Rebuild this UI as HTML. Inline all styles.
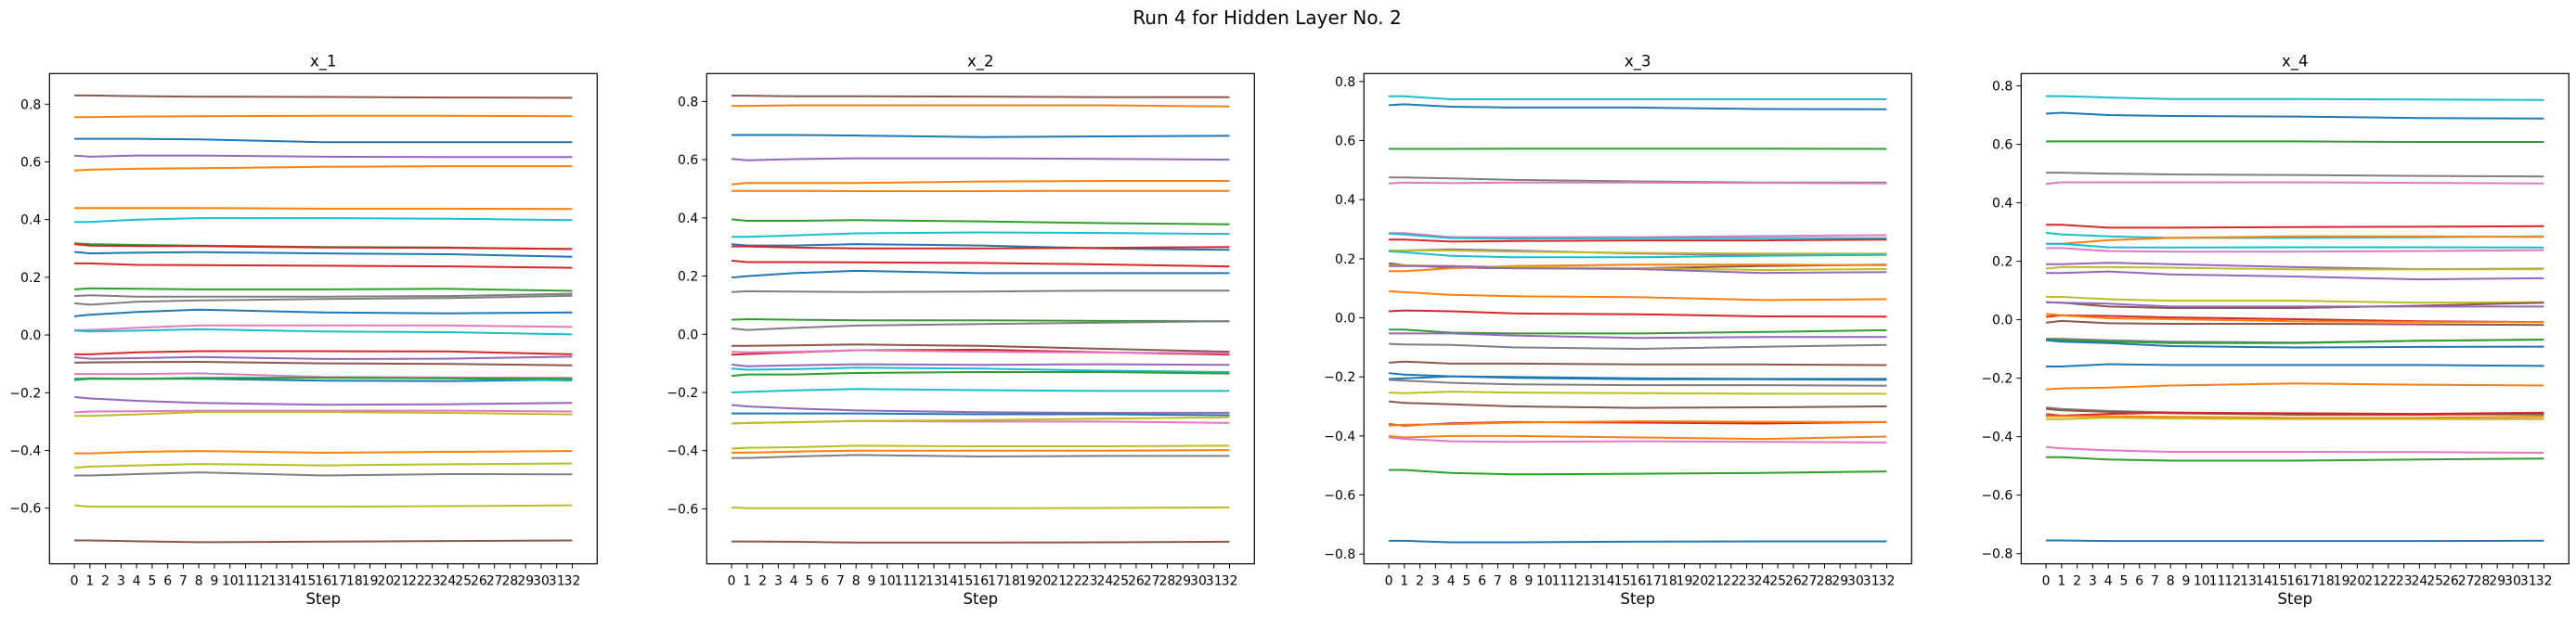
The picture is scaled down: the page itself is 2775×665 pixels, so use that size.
<!DOCTYPE html>
<html><head><meta charset="utf-8"><style>
body{margin:0;background:#fff;}
svg{display:block;font-family:"DejaVu Sans","Liberation Sans",sans-serif;}
</style></head><body>
<svg id="fig" width="2775" height="665" xmlns="http://www.w3.org/2000/svg">
<rect width="2775" height="665" fill="#fff"/>
<text x="1365" y="26" font-size="20" text-anchor="middle" fill="#000">Run 4 for Hidden Layer No. 2</text>
</svg>
<script>
const steps = [0,1,4,8,16,24,32];
const tickSteps = Array.from({length:33},(_,i)=>i);
const panelTitles = ["x_1","x_2","x_3","x_4"];
const yTicks1 = [-0.6,-0.4,-0.2,0.0,0.2,0.4,0.6,0.8];
const yTicks2 = [-0.6,-0.4,-0.2,0.0,0.2,0.4,0.6,0.8];
const yTicks3 = [-0.8,-0.6,-0.4,-0.2,0.0,0.2,0.4,0.6,0.8];
const yTicks4 = [-0.8,-0.6,-0.4,-0.2,0.0,0.2,0.4,0.6,0.8];
const yRange1 = [-0.793,0.906];
const yRange2 = [-0.789,0.896];
const yRange3 = [-0.833,0.827];
const yRange4 = [-0.835,0.842];
const C={b:"#1f77b4",o:"#ff7f0e",g:"#2ca02c",r:"#d62728",p:"#9467bd",br:"#8c564b",pk:"#e377c2",gr:"#7f7f7f",ol:"#bcbd22",c:"#17becf"};
const colors1=["br","o","b","p","o","o","c","g","r","b","r","g","gr","gr","b","pk","c","r","p","br","pk","b","c","g","p","pk","ol","o","ol","gr","ol","br"];
const series1=[
[.83,.83,.828,.826,.825,.823,.822],[.755,.755,.757,.758,.76,.76,.758],[.68,.68,.68,.678,.668,.668,.668],[.622,.618,.622,.622,.618,.617,.617],
[.57,.573,.576,.578,.583,.585,.585],[.44,.44,.44,.44,.438,.438,.437],[.392,.392,.4,.405,.405,.403,.398],[.318,.315,.312,.31,.305,.303,.298],
[.315,.31,.308,.308,.303,.302,.298],[.288,.283,.285,.287,.283,.28,.271],[.248,.248,.243,.242,.24,.238,.233],[.158,.162,.16,.158,.158,.16,.153],
[.135,.138,.133,.133,.133,.135,.143],[.11,.105,.115,.12,.125,.128,.136],[.065,.07,.08,.088,.078,.075,.078],[.017,.017,.025,.033,.033,.033,.028],
[.015,.012,.015,.02,.012,.01,.002],[-.067,-.067,-.06,-.056,-.056,-.057,-.067],[-.077,-.082,-.08,-.076,-.083,-.082,-.075],[-.096,-.095,-.094,-.093,-.098,-.1,-.105],
[-.135,-.135,-.135,-.133,-.145,-.147,-.148],[-.152,-.152,-.152,-.152,-.158,-.16,-.155],[-.157,-.152,-.152,-.148,-.148,-.15,-.158],[-.153,-.15,-.152,-.15,-.148,-.15,-.152],
[-.215,-.22,-.228,-.235,-.242,-.24,-.235],[-.268,-.265,-.264,-.262,-.262,-.262,-.265],[-.28,-.28,-.275,-.267,-.267,-.27,-.275],[-.41,-.41,-.405,-.402,-.408,-.405,-.402],
[-.46,-.456,-.452,-.447,-.452,-.448,-.445],[-.487,-.487,-.482,-.476,-.487,-.482,-.483],[-.59,-.595,-.595,-.595,-.595,-.593,-.59],[-.712,-.712,-.715,-.718,-.716,-.714,-.712]];
const colors2=["br","o","b","p","o","o","g","c","b","r","r","b","gr","g","gr","br","r","pk","p","c","g","c","p","b","pk","ol","ol","o","gr","ol","br"];
const series2=[
[.82,.82,.818,.818,.817,.815,.815],[.785,.785,.787,.787,.787,.787,.783],[.685,.685,.685,.683,.678,.68,.682],[.603,.598,.602,.605,.605,.603,.6],
[.515,.52,.52,.52,.525,.527,.527],[.493,.493,.493,.492,.492,.493,.493],[.395,.39,.39,.392,.388,.382,.378],[.335,.335,.34,.347,.35,.348,.345],
[.31,.305,.305,.31,.305,.295,.29],[.302,.302,.298,.295,.295,.297,.3],[.253,.248,.248,.247,.245,.24,.233],[.195,.2,.21,.218,.21,.21,.21],
[.145,.148,.147,.145,.147,.15,.15],[.05,.052,.05,.048,.048,.046,.045],[.02,.015,.022,.03,.035,.04,.045],[-.04,-.04,-.038,-.035,-.04,-.05,-.06],
[-.07,-.068,-.062,-.055,-.053,-.062,-.07],[-.06,-.062,-.06,-.055,-.06,-.063,-.065],[-.104,-.11,-.107,-.103,-.105,-.103,-.105],[-.118,-.122,-.12,-.115,-.118,-.125,-.13],
[-.143,-.138,-.138,-.133,-.13,-.13,-.135],[-.2,-.198,-.193,-.188,-.192,-.195,-.195],[-.243,-.248,-.255,-.262,-.268,-.27,-.27],[-.272,-.272,-.272,-.272,-.275,-.275,-.278],
[-.307,-.305,-.302,-.298,-.3,-.3,-.305],[-.307,-.305,-.303,-.298,-.295,-.29,-.285],[-.393,-.39,-.388,-.383,-.385,-.385,-.383],[-.407,-.407,-.403,-.4,-.4,-.4,-.398],
[-.425,-.425,-.42,-.415,-.42,-.418,-.418],[-.595,-.598,-.598,-.598,-.598,-.597,-.595],[-.712,-.712,-.713,-.716,-.716,-.715,-.713]];
const colors3=["c","b","g","gr","pk","pk","c","r","p","ol","c","br","o","ol","p","o","r","g","p","gr","br","b","b","gr","ol","br","r","o","o","pk","g","b"];
const series3=[
[.75,.75,.74,.74,.74,.74,.74],[.72,.723,.715,.712,.712,.707,.706],[.572,.572,.572,.573,.573,.573,.572],[.475,.475,.472,.467,.462,.458,.458],
[.455,.458,.456,.458,.458,.457,.455],[.287,.287,.273,.273,.273,.277,.28],[.285,.282,.27,.268,.27,.27,.27],[.265,.265,.258,.26,.262,.262,.265],
[.225,.228,.232,.228,.218,.212,.215],[.228,.228,.228,.224,.22,.218,.218],[.225,.222,.21,.205,.205,.21,.213],[.185,.178,.17,.168,.168,.175,.18],
[.158,.158,.168,.175,.18,.18,.178],[.178,.178,.175,.172,.168,.162,.165],[.175,.175,.175,.168,.165,.152,.155],[.09,.087,.078,.073,.07,.06,.063],
[.022,.025,.022,.015,.012,.005,.004],[-.04,-.04,-.05,-.053,-.053,-.048,-.042],[-.053,-.053,-.053,-.06,-.068,-.065,-.065],[-.088,-.09,-.092,-.1,-.105,-.098,-.092],
[-.152,-.148,-.155,-.155,-.158,-.158,-.16],[-.187,-.192,-.198,-.2,-.205,-.207,-.207],[-.207,-.205,-.198,-.203,-.208,-.208,-.21],[-.21,-.213,-.22,-.225,-.228,-.228,-.23],
[-.253,-.255,-.25,-.253,-.255,-.257,-.257],[-.283,-.288,-.293,-.3,-.305,-.303,-.3],[-.36,-.365,-.357,-.353,-.355,-.358,-.353],[-.365,-.362,-.36,-.355,-.35,-.352,-.353],
[-.4,-.405,-.4,-.4,-.405,-.41,-.402],[-.405,-.41,-.418,-.42,-.418,-.42,-.422],[-.515,-.515,-.525,-.53,-.528,-.525,-.52],[-.755,-.755,-.76,-.76,-.758,-.757,-.757]];
const colors4=["c","b","g","gr","pk","r","c","o","c","pk","p","ol","p","ol","br","p","r","o","br","gr","g","b","b","o","gr","br","r","o","ol","pk","g","b"];
const series4=[
[.765,.765,.76,.755,.755,.753,.752],[.705,.708,.7,.697,.695,.69,.688],[.61,.61,.61,.61,.61,.608,.608],[.503,.503,.5,.497,.495,.492,.49],
[.465,.47,.47,.47,.47,.468,.466],[.325,.325,.315,.315,.317,.318,.32],[.297,.292,.285,.28,.28,.282,.285],[.26,.26,.272,.28,.285,.285,.283],
[.26,.26,.248,.247,.248,.248,.247],[.245,.245,.235,.233,.233,.235,.238],[.19,.19,.195,.19,.18,.173,.175],[.175,.18,.18,.178,.172,.172,.173],
[.16,.16,.165,.155,.148,.138,.142],[.078,.078,.07,.065,.065,.058,.06],[.06,.058,.045,.04,.04,.048,.058],[.06,.058,.055,.045,.045,.045,.045],
[.01,.015,.013,.008,.002,-.005,-.008],[.02,.015,.005,.002,-.005,-.008,-.008],[-.01,-.004,-.012,-.014,-.014,-.016,-.018],[-.065,-.065,-.07,-.075,-.078,-.072,-.068],
[-.068,-.07,-.075,-.08,-.08,-.072,-.068],[-.07,-.075,-.08,-.09,-.095,-.093,-.092],[-.16,-.16,-.152,-.155,-.155,-.155,-.158],[-.238,-.235,-.232,-.225,-.218,-.222,-.225],
[-.3,-.305,-.312,-.317,-.323,-.323,-.325],[-.305,-.31,-.315,-.32,-.325,-.325,-.322],[-.323,-.328,-.322,-.318,-.32,-.322,-.318],[-.33,-.33,-.33,-.332,-.335,-.335,-.332],
[-.34,-.34,-.335,-.338,-.34,-.34,-.34],[-.435,-.44,-.447,-.452,-.452,-.453,-.455],[-.47,-.47,-.478,-.482,-.482,-.478,-.475],[-.755,-.755,-.757,-.757,-.757,-.757,-.756]];

const panels=[
 {series:series1,colors:colors1,yTicks:yTicks1,yRange:yRange1},
 {series:series2,colors:colors2,yTicks:yTicks2,yRange:yRange2},
 {series:series3,colors:colors3,yTicks:yTicks3,yRange:yRange3},
 {series:series4,colors:colors4,yTicks:yTicks4,yRange:yRange4}];
const NS="http://www.w3.org/2000/svg";
const svg=document.getElementById("fig");
function mk(tag,attrs,parent){const e=document.createElementNS(NS,tag);for(const k in attrs)e.setAttribute(k,attrs[k]);(parent||svg).appendChild(e);return e;}
const AX_TOP=79.3, AX_BOT=607.7, AX_W=590, GAP=118, AX_L0=53.3;
panels.forEach((pn,pi)=>{
  const L=AX_L0+pi*(AX_W+GAP), R=L+AX_W;
  const xs=s=>L+(s+1.6)/35.2*AX_W;
  const ys=v=>AX_BOT-(v-pn.yRange[0])/(pn.yRange[1]-pn.yRange[0])*(AX_BOT-AX_TOP);
  const g=mk("g",{});
  
  
  pn.series.forEach((vals,si)=>{
    const d=vals.map((v,i)=>(i?"L":"M")+xs(steps[i]).toFixed(1)+","+ys(v).toFixed(1)).join("");
    const p=mk("path",{d:d,fill:"none",stroke:C[pn.colors[si]],"stroke-width":2,"stroke-linejoin":"round"},g);
    
    
  });
  const fr=mk("rect",{x:L,y:AX_TOP,width:AX_W,height:AX_BOT-AX_TOP,fill:"none",stroke:"#000","stroke-width":1.2},g);
  
  
  const t=mk("text",{x:(L+R)/2,y:AX_TOP-8,"font-size":16.5,"text-anchor":"middle"},g);
  t.textContent=panelTitles[pi];
  
  
  pn.yTicks.forEach(v=>{
    const y=ys(v);
    mk("line",{x1:L-5,x2:L,y1:y,y2:y,stroke:"#000","stroke-width":1},g);
    const tt=mk("text",{x:L-9,y:y+5,"font-size":14,"text-anchor":"end"},g);
    tt.textContent=(v<0?"\u2212":"")+Math.abs(v).toFixed(1);
    
    
  });
  tickSteps.forEach(s=>{
    const x=xs(s);
    mk("line",{x1:x,x2:x,y1:AX_BOT,y2:AX_BOT+5,stroke:"#000","stroke-width":1},g);
    const tt=mk("text",{x:x,y:AX_BOT+23,"font-size":14,"text-anchor":"middle"},g);
    tt.textContent=String(s);
    
    
  });
  const xl=mk("text",{x:(L+R)/2,y:651,"font-size":16.5,"text-anchor":"middle"},g);
  xl.textContent="Step";
  
  
});
</script>
</body></html>
